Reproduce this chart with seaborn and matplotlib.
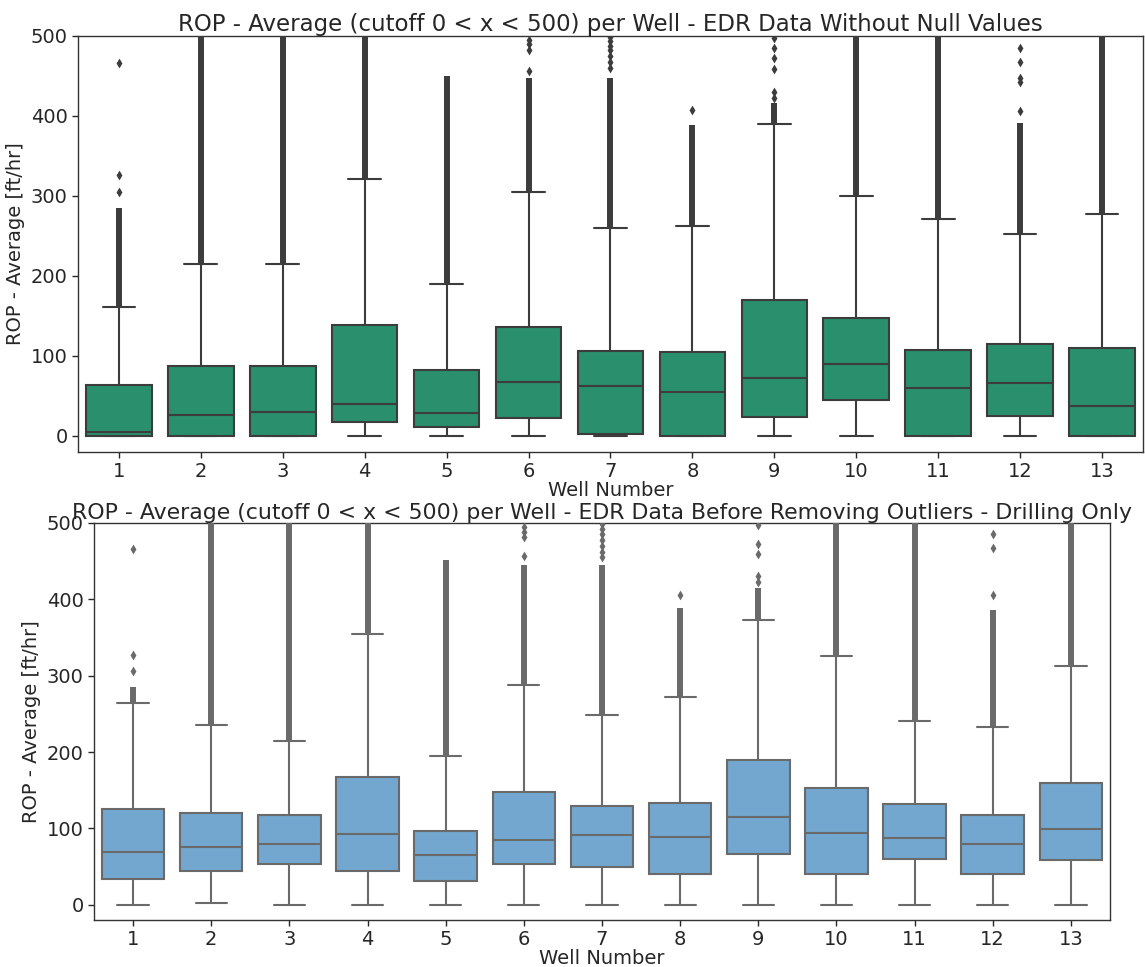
import numpy as np
import pandas as pd
import matplotlib.pyplot as plt
import seaborn as sns

sns.set_theme(style="ticks")
plt.rcParams['font.family'] = ['DejaVu Sans']

wells = [str(i) for i in range(1, 14)]

# ---- top panel: EDR data without null values ----
top_whislo = [0, 0, 0, 0, 0, 0, 0, 0, 0, 0, 0, 0, 0]
top_q1 = [0, 0, 0, 18, 11, 23, 2, 0, 24, 45, 0, 25, 0]
top_med = [5, 26, 30, 40, 29, 67, 63, 55, 72, 90, 60, 66, 37]
top_q3 = [64, 87, 87, 139, 82, 136, 106, 105, 170, 148, 108, 115, 110]
top_whishi = [161, 215, 215, 321, 190, 305, 260, 262, 390, 300, 271, 253, 277]
# dense flier runs (from the whisker cap up to this value)
top_dense_top = [285, 500, 500, 500, 450, 447, 447, 389, 416, 500, 500, 391, 500]
# isolated fliers above the dense run
top_fliers = {
    "1": [305, 326, 466],
    "6": [456, 483, 490, 495],
    "7": [460, 468, 475, 482, 488, 494, 499],
    "8": [407],
    "9": [422, 430, 459, 473, 485, 497],
    "12": [406, 442, 447, 468, 485],
}

# ---- bottom panel: before removing outliers, drilling only ----
bot_whislo = [0, 2, 0, 0, 0, 0, 0, 0, 0, 0, 0, 0, 0]
bot_q1 = [34, 44, 54, 44, 31, 53, 49, 40, 66, 40, 60, 40, 58]
bot_med = [69, 76, 80, 92, 65, 85, 91, 89, 115, 94, 87, 80, 99]
bot_q3 = [126, 120, 118, 167, 96, 147, 129, 133, 189, 153, 132, 117, 160]
bot_whishi = [264, 236, 214, 354, 195, 288, 248, 272, 373, 326, 240, 233, 313]
bot_dense_top = [285, 500, 500, 500, 451, 445, 445, 388, 415, 500, 500, 386, 500]
bot_fliers = {
    "1": [306, 327, 466],
    "6": [457, 482, 488, 495],
    "7": [455, 462, 470, 478, 485, 492, 498],
    "8": [406],
    "9": [423, 430, 459, 473, 497],
    "12": [405, 467, 486],
}

titulo_top = "ROP - Average (cutoff 0 < x < 500) per Well - EDR Data Without Null Values"
titulo_bot = "ROP - Average (cutoff 0 < x < 500) per Well - EDR Data Before Removing Outliers - Drilling Only"


def painel(ax, whislo, q1, med, q3, whishi, dense_top, fliers, face, edge, titulo, tsize):
    # five values per well so that quartiles and whisker ends come out exact
    linhas = []
    for i, w in enumerate(wells):
        for v in (whislo[i], q1[i], med[i], q3[i], whishi[i]):
            linhas.append((w, v))
    df = pd.DataFrame(linhas, columns=["well", "rop"])
    sns.boxplot(data=df, x="well", y="rop", order=wells, ax=ax, color=face,
                saturation=1, linecolor=edge, linewidth=1.5, whis=(0, 100),
                width=0.8)

    # dense outlier runs look like a solid dark bar
    ax.vlines(np.arange(len(wells)), whishi, dense_top, color=edge, lw=4.3, zorder=3)

    fl = pd.DataFrame([(w, v) for w, vs in fliers.items() for v in vs],
                      columns=["well", "rop"])
    sns.stripplot(data=fl, x="well", y="rop", order=wells, ax=ax, jitter=False,
                  marker="d", size=5, color=edge, linewidth=0, zorder=3)

    ax.set_ylim(-20, 500)
    ax.set_yticks([0, 100, 200, 300, 400, 500])
    ax.set_xlim(-0.5, len(wells) - 0.5)
    ax.set_title(titulo, fontsize=tsize, pad=3)
    ax.set_xlabel("Well Number", fontsize=14, labelpad=0)
    ax.set_ylabel("ROP - Average [ft/hr]", fontsize=14)
    ax.tick_params(labelsize=14, length=4, width=1)
    for s in ax.spines.values():
        s.set_color("#333333")
        s.set_linewidth(1.0)


fig = plt.figure(figsize=(11.45, 9.67), dpi=100)
ax1 = fig.add_axes([0.0681, 0.5326, 0.9301, 0.4302])
ax2 = fig.add_axes([0.0821, 0.0486, 0.8873, 0.4106])

painel(ax1, top_whislo, top_q1, top_med, top_q3, top_whishi, top_dense_top,
       top_fliers, "#2a8f6c", "#3c3c3c", titulo_top, 16.5)
painel(ax2, bot_whislo, bot_q1, bot_med, bot_q3, bot_whishi, bot_dense_top,
       bot_fliers, "#73a7cf", "#6a6a6a", titulo_bot, 15.8)

fig.savefig("out.png", dpi=100)
